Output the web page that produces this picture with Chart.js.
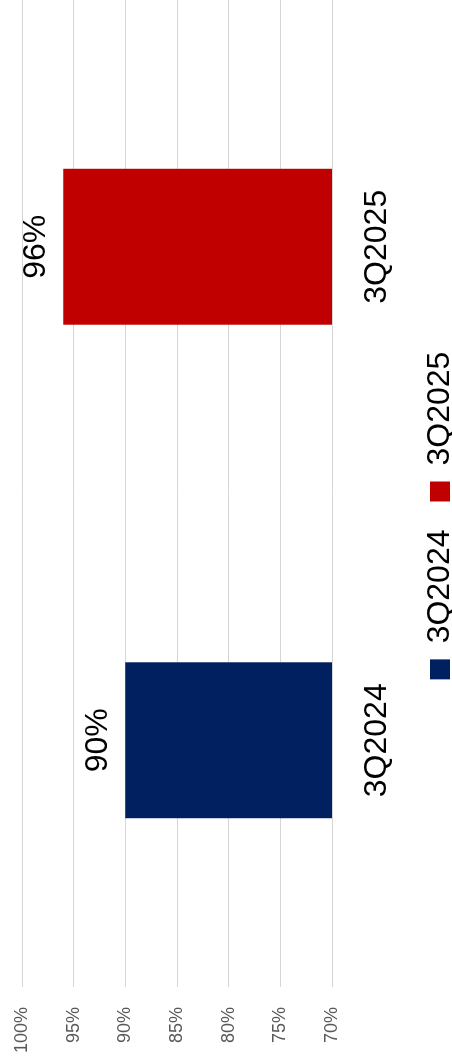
<!DOCTYPE html>
<html>
<head>
<meta charset="utf-8">
<script src="https://cdn.jsdelivr.net/npm/chart.js@4/dist/chart.umd.min.js"></script>
<style>
  html, body { margin: 0; padding: 0; background: #fff; overflow: hidden; }
  body { width: 452px; height: 1063px; position: relative; }
  /* chart is laid out landscape and turned a quarter turn counter-clockwise */
  #wrap {
    position: absolute; left: 0; top: 0;
    width: 1063px; height: 466px;
    transform-origin: 0 0;
    transform: translate(0, 1063px) rotate(-90deg);
  }
</style>
</head>
<body>
<div id="wrap"><canvas id="barChart" width="1063" height="466"></canvas></div>
<script>
var categories = ['3Q2024', '3Q2025'];
var values = [90, 96];
var barColors = ['#002060', '#C00000'];
var yMin = 70, yMax = 100, yStep = 5;

Chart.defaults.font.family = "'Liberation Sans', Arial, sans-serif";

// one dataset per quarter so the legend lists both quarters
var datasets = [];
for (var i = 0; i < categories.length; i++) {
    var d = [];
    for (var j = 0; j < categories.length; j++) {
        d.push(j === i ? values[i] : null);
    }
    datasets.push({ label: categories[i], data: d, backgroundColor: barColors[i] });
}

// value labels above each bar
var valueLabels = {
    id: 'valueLabels',
    afterDatasetsDraw: function(chart) {
        var ctx = chart.ctx;
        ctx.save();
        ctx.font = "32px 'Liberation Sans', Arial, sans-serif";
        ctx.fillStyle = '#000';
        ctx.textAlign = 'center';
        ctx.textBaseline = 'alphabetic';
        chart.data.datasets.forEach(function(ds, i) {
            chart.getDatasetMeta(i).data.forEach(function(bar, j) {
                var v = ds.data[j];
                if (v == null) return;
                ctx.fillText(v + '%', bar.x, bar.y - 18);
            });
        });
        ctx.restore();
    }
};

// center the legend under the plot rather than the whole canvas
var legendOffset = {
    id: 'legendOffset',
    afterLayout: function(chart) {
        if (!chart.legend) return;
        chart.legend.left += 12;
        chart.legend.right += 12;
    }
};

new Chart(document.getElementById('barChart'), {
    type: 'bar',
    data: { labels: categories, datasets: datasets },
    options: {
        responsive: false,
        animation: false,
        devicePixelRatio: 1,
        layout: { padding: { left: 8, top: 22, right: 0, bottom: 0 } },
        datasets: {
            bar: { grouped: false, categoryPercentage: 1, barPercentage: 0.316 }
        },
        plugins: {
            tooltip: { enabled: false },
            legend: {
                position: 'bottom',
                labels: {
                    boxWidth: 20,
                    boxHeight: 20,
                    padding: 28,
                    color: '#000',
                    font: { size: 32 }
                }
            }
        },
        scales: {
            x: {
                grid: { display: false, drawTicks: false },
                border: { display: false },
                ticks: { color: '#000', padding: 26, maxRotation: 0, font: { size: 32 } },
                afterFit: function(scale) { scale.height = 64; }
            },
            y: {
                min: yMin,
                max: yMax,
                grid: { color: '#d6d6d6', lineWidth: 1, drawTicks: false },
                border: { display: false },
                ticks: {
                    stepSize: yStep,
                    padding: 20,
                    color: '#595959',
                    font: { size: 18 },
                    callback: function(v) { return v + '%'; }
                },
                afterFit: function(scale) {
                    scale.width = 68;
                    scale.paddingTop = 10;
                }
            }
        }
    },
    plugins: [valueLabels, legendOffset]
});
</script>
</body>
</html>
